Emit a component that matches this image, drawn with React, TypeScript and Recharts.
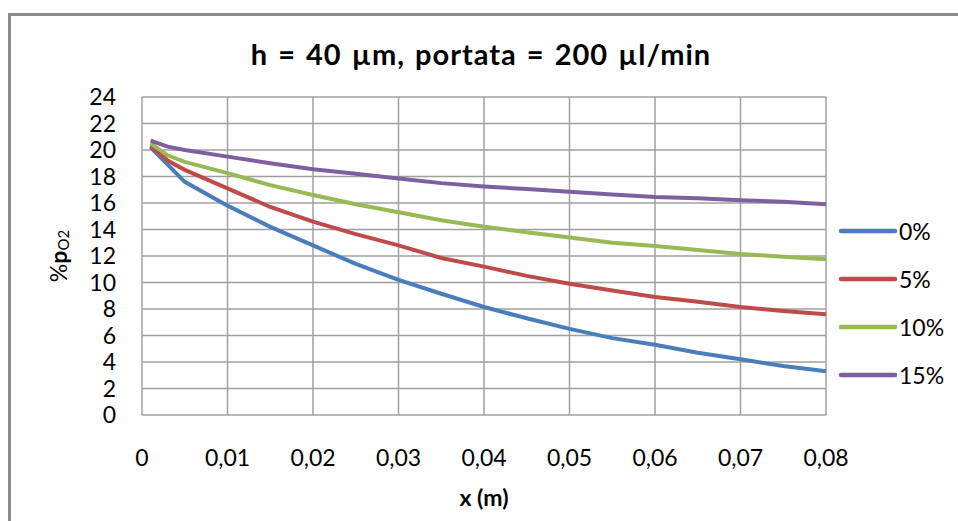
import React from "react";
import {
  LineChart,
  Line,
  XAxis,
  YAxis,
  CartesianGrid,
  Legend,
  Label
} from "recharts";

// distance along the channel (m)
const X_VALUES = [
  0.001, 0.003, 0.005, 0.01, 0.015, 0.02, 0.025, 0.03, 0.035,
  0.04, 0.045, 0.05, 0.055, 0.06, 0.065, 0.07, 0.075, 0.08
];

// %pO2 for each inlet condition
const PO2_0 = [
  20.2, 18.9, 17.6, 15.8, 14.2, 12.8, 11.4, 10.2, 9.15,
  8.15, 7.3, 6.5, 5.8, 5.3, 4.7, 4.2, 3.7, 3.3
];
const PO2_5 = [
  20.3, 19.2, 18.5, 17.1, 15.7, 14.6, 13.65, 12.8, 11.85,
  11.2, 10.5, 9.9, 9.4, 8.9, 8.55, 8.15, 7.85, 7.6
];
const PO2_10 = [
  20.5, 19.6, 19.1, 18.25, 17.35, 16.6, 15.9, 15.3, 14.7,
  14.2, 13.8, 13.4, 13.0, 12.75, 12.45, 12.15, 11.95, 11.75
];
const PO2_15 = [
  20.7, 20.25, 20.0, 19.5, 19.0, 18.55, 18.2, 17.85, 17.5,
  17.25, 17.05, 16.85, 16.65, 16.45, 16.35, 16.2, 16.1, 15.9
];

const X_TICKS = [0, 0.01, 0.02, 0.03, 0.04, 0.05, 0.06, 0.07, 0.08];
const Y_TICKS = [0, 2, 4, 6, 8, 10, 12, 14, 16, 18, 20, 22, 24];

const SERIES = [
  { key: "p0", name: "0%", color: "#4a7ebb", values: PO2_0 },
  { key: "p5", name: "5%", color: "#be4b48", values: PO2_5 },
  { key: "p10", name: "10%", color: "#98b954", values: PO2_10 },
  { key: "p15", name: "15%", color: "#7d60a0", values: PO2_15 }
];

const data = X_VALUES.map((x, i) => {
  const row: Record<string, number> = { x };
  SERIES.forEach(s => {
    row[s.key] = s.values[i];
  });
  return row;
});

const FONT = "Lato, 'Open Sans', sans-serif";

const formatX = (v: number) =>
  v === 0 ? "0" : v.toFixed(2).replace(".", ",");

const YLabel = () => (
  <text
    x={58}
    y={256}
    transform="rotate(-90, 58, 256)"
    textAnchor="middle"
    dominantBaseline="central"
    fontFamily={FONT}
    fontSize={23}
    fill="#000"
  >
    <tspan>%</tspan>
    <tspan fontWeight="bold">p</tspan>
    <tspan fontSize={15} dy={5}>O2</tspan>
  </text>
);

// legend rows keep the series order (recharts sorts the payload by name)
const LegendBox = () => (
  <div>
    {SERIES.map(s => (
      <div
        key={s.key}
        style={{
          display: "flex",
          alignItems: "center",
          height: "48px"
        }}
      >
        <svg width={60} height={8}>
          <line
            x1={3}
            y1={4}
            x2={57}
            y2={4}
            stroke={s.color}
            strokeWidth={4.5}
            strokeLinecap="round"
          />
        </svg>
        <span
          style={{
            fontFamily: FONT,
            fontSize: "23px",
            color: "#000",
            marginLeft: "1px"
          }}
        >
          {s.name}
        </span>
      </div>
    ))}
  </div>
);

export default function App() {
  return (
    <div
      style={{
        position: "absolute",
        left: 0,
        top: 0,
        width: 958,
        height: 521,
        overflow: "hidden",
        background: "#fff"
      }}
    >
      {/* chart frame */}
      <div
        style={{
          position: "absolute",
          left: 8,
          top: 13,
          width: 1000,
          height: 600,
          borderLeft: "3px solid #8c8c8c",
          borderTop: "3px solid #8c8c8c"
        }}
      />

      <div
        style={{
          position: "absolute",
          left: 0,
          top: 40,
          width: 962,
          textAlign: "center",
          fontFamily: FONT,
          fontWeight: "bold",
          fontSize: "29px",
          lineHeight: "28px",
          letterSpacing: "1px",
          wordSpacing: "2px",
          color: "#000"
        }}
      >
        h = 40 µm, portata = 200 µl/min
      </div>

      <div style={{ position: "absolute", left: 0, top: 0 }}>
        <LineChart
          width={958}
          height={521}
          data={data}
          margin={{ top: 97, right: 132, bottom: 6, left: 8 }}
        >
          <CartesianGrid
            stroke="#a0a0a0"
            strokeWidth={1.5}
          />

          <XAxis
            dataKey="x"
            type="number"
            domain={[0, 0.08]}
            ticks={X_TICKS}
            interval={0}
            tickFormatter={formatX}
            axisLine={false}
            tickLine={false}
            tickMargin={29}
            height={100}
            tick={{ fill: "#000", fontSize: 23, fontFamily: FONT }}
          >
            <Label
              value="x (m)"
              position="insideBottom"
              offset={9}
              style={{
                fill: "#000",
                fontSize: 23,
                fontWeight: "bold",
                fontFamily: FONT
              }}
            />
          </XAxis>

          <YAxis
            type="number"
            domain={[0, 24]}
            ticks={Y_TICKS}
            interval={0}
            axisLine={false}
            tickLine={false}
            tickMargin={20}
            width={134}
            tick={{ fill: "#000", fontSize: 23, fontFamily: FONT }}
          >
            <Label content={<YLabel />} />
          </YAxis>

          <Legend
            layout="vertical"
            align="center"
            verticalAlign="middle"
            content={<LegendBox />}
            wrapperStyle={{
              position: "absolute",
              left: 838,
              top: 207,
              width: 120
            }}
          />

          {SERIES.map(s => (
            <Line
              key={s.key}
              type="linear"
              dataKey={s.key}
              name={s.name}
              stroke={s.color}
              strokeWidth={4}
              dot={false}
              isAnimationActive={false}
            />
          ))}
        </LineChart>
      </div>
    </div>
  );
}
